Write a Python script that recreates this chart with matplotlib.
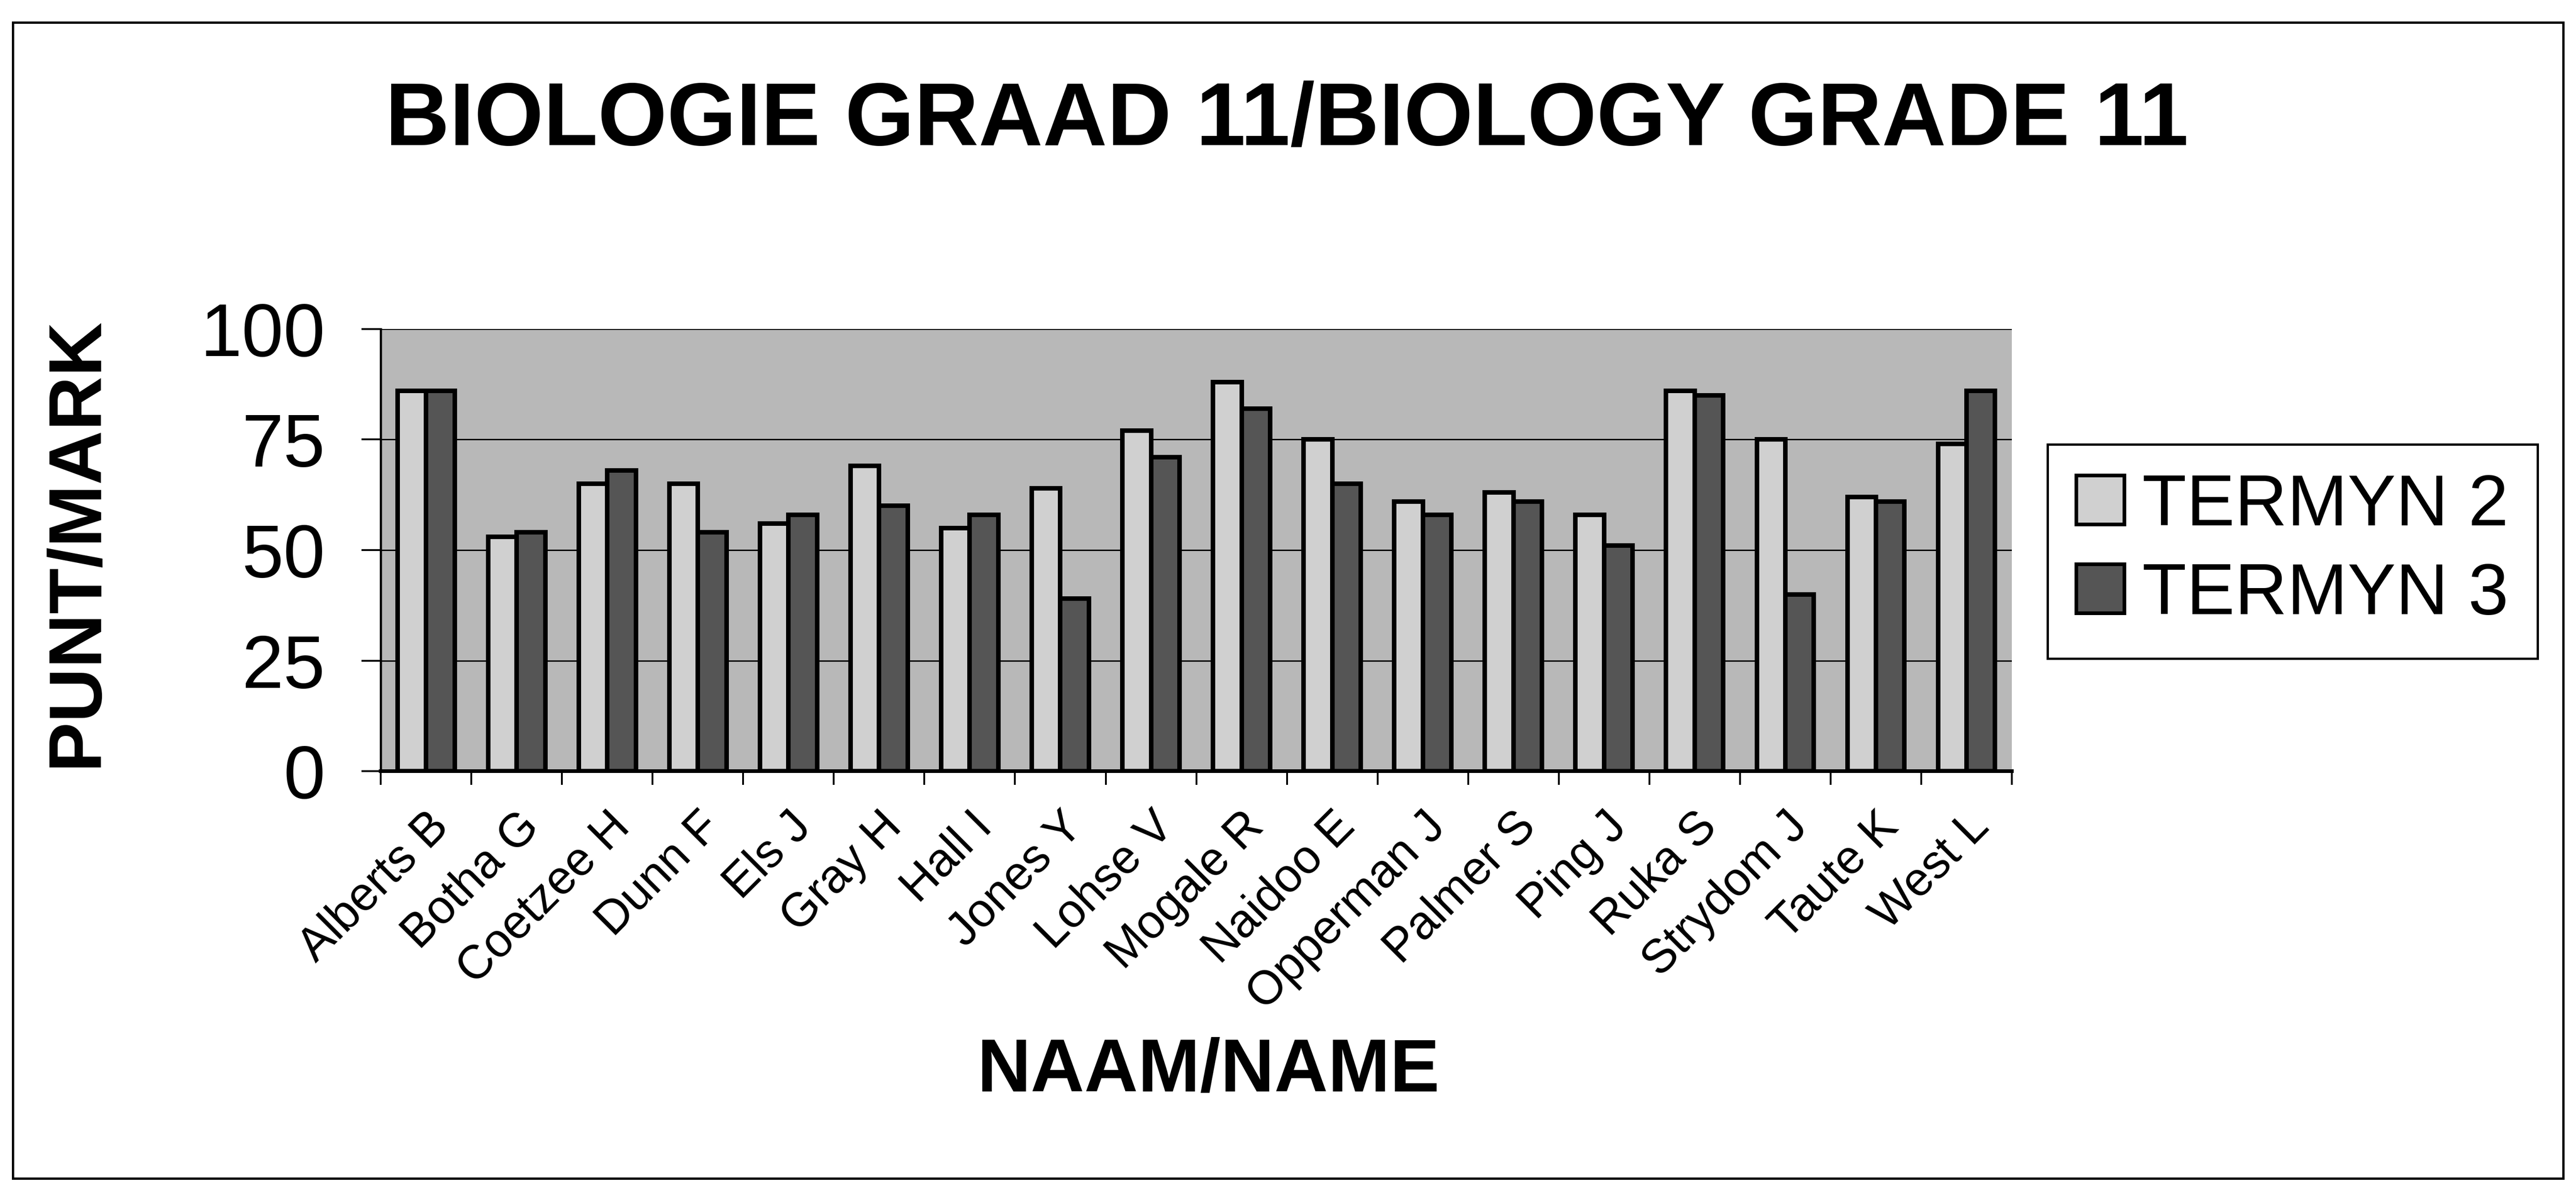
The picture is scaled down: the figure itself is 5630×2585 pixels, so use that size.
import matplotlib
matplotlib.use('Agg')
import matplotlib.pyplot as plt
import numpy as np
from matplotlib.patches import Rectangle

# ---------------- data ----------------
names = ["Alberts B", "Botha G", "Coetzee H", "Dunn F", "Els J", "Gray H",
         "Hall I", "Jones Y", "Lohse V", "Mogale R", "Naidoo E", "Opperman J",
         "Palmer S", "Ping J", "Ruka S", "Strydom J", "Taute K", "West L"]
termyn2 = [86, 53, 65, 65, 56, 69, 55, 64, 77, 88, 75, 61, 63, 58, 86, 75, 62, 74]
termyn3 = [86, 54, 68, 54, 58, 60, 58, 39, 71, 82, 65, 58, 61, 51, 85, 40, 61, 86]
series_labels = ["TERMYN 2", "TERMYN 3"]
yticks = [0, 25, 50, 75, 100]
title = "BIOLOGIE GRAAD 11/BIOLOGY GRADE 11"
xlabel = "NAAM/NAME"
ylabel = "PUNT/MARK"

# ---------------- style ----------------
plt.rcParams['font.family'] = ['Liberation Sans', 'DejaVu Sans']
DPI = 100
PX = 72.0 / DPI  # points per pixel

fig = plt.figure(figsize=(56.30, 25.85), dpi=DPI)
fig.patch.set_facecolor('white')

ax = fig.add_axes([0.1478, 0.348, 0.781 - 0.1478, 0.722 - 0.348])
x = np.arange(len(names))
w = 0.315
ax.bar(x - w / 2, termyn2, w, color='#d0d0d0', edgecolor='black',
       linewidth=10 * PX, label=series_labels[0], zorder=3)
ax.bar(x + w / 2, termyn3, w, color='#555555', edgecolor='black',
       linewidth=10 * PX, label=series_labels[1], zorder=3)

ax.set_xlim(-0.5, len(names) - 0.5)
ax.set_ylim(0, 100)
ax.set_facecolor('#b8b8b8')
ax.set_axisbelow(True)
ax.set_yticks(yticks)
ax.set_yticklabels([str(v) for v in yticks], fontsize=118)
ax.yaxis.grid(True, color='black', linewidth=3 * PX)
ax.tick_params(axis='y', length=42 * PX, width=4 * PX, pad=57, direction='out')

ax.set_xticks(x)
ax.set_xticklabels(names, rotation=45, ha='right', rotation_mode='anchor',
                   fontsize=74)
ax.set_xticks(np.arange(-0.5, len(names), 1.0), minor=True)
ax.tick_params(axis='x', which='major', length=0, pad=52)
ax.tick_params(axis='x', which='minor', length=30 * PX, width=4 * PX,
               direction='out')

for s in ['top', 'right']:
    ax.spines[s].set_visible(False)
ax.spines['left'].set_linewidth(5 * PX)
ax.spines['bottom'].set_linewidth(8 * PX)

# titles
fig.text(0.4996, 0.897, title, ha='center', va='center', fontsize=140,
         fontweight='bold')
fig.text(0.469, 0.094, xlabel, ha='center', va='center', fontsize=117,
         fontweight='bold')
fig.text(0.030, 0.542, ylabel, ha='center', va='center', fontsize=118,
         fontweight='bold', rotation=90)

# legend
leg = fig.legend(loc='center', bbox_to_anchor=(0.890, 0.534), fontsize=114,
                 frameon=True, fancybox=False, framealpha=1,
                 edgecolor='black', handlelength=0.66, handleheight=0.66,
                 handletextpad=0.25, labelspacing=0.3, borderpad=0.4)
leg.get_frame().set_linewidth(5 * PX)
for h in leg.legend_handles:
    h.set_linewidth(8 * PX)

# outer frame
fig.patches.append(Rectangle((0.005, 0.004), 0.99, 0.977,
                             transform=fig.transFigure, fill=False,
                             edgecolor='black', linewidth=5 * PX))

fig.savefig('out.png', dpi=DPI)
